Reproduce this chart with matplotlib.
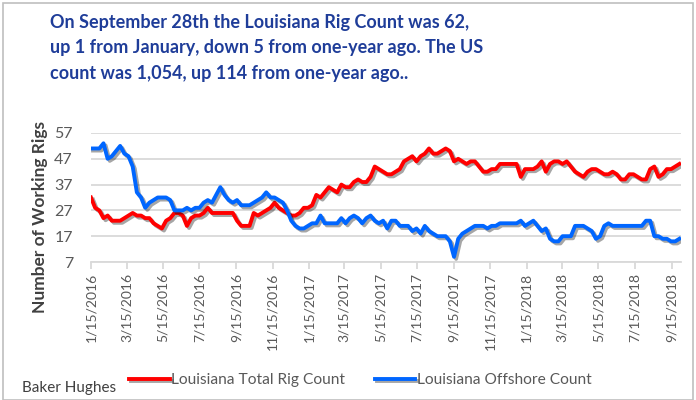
import numpy as np
import pandas as pd
import matplotlib
matplotlib.use('Agg')
import matplotlib.pyplot as plt
import matplotlib.patheffects as pe
from matplotlib.patches import Rectangle

# weekly Baker Hughes counts, Fridays 1/15/2016 .. 9/28/2018
weeks = pd.date_range('2016-01-15', '2018-09-28', freq='W-FRI')

la_total = [32, 28, 27, 24, 25, 23, 23, 23, 24, 25,
            26, 25, 25, 24, 24, 22, 21, 20, 23, 24,
            26, 26, 25, 21, 24, 25, 25, 26, 28, 26,
            26, 26, 26, 26, 26, 23, 21, 21, 21, 26,
            25, 26, 27, 28, 30, 28, 27, 26, 25, 25,
            26, 28, 28, 29, 33, 32, 34, 36, 35, 34,
            37, 36, 36, 38, 39, 38, 38, 40, 44, 43,
            42, 41, 41, 42, 43, 46, 47, 48, 46, 48,
            49, 51, 49, 49, 50, 51, 50, 46, 47, 46,
            45, 46, 46, 44, 42, 42, 43, 43, 45, 45,
            45, 45, 45, 40, 43, 43, 43, 44, 46, 42,
            45, 46, 46, 45, 46, 44, 42, 41, 40, 42,
            43, 43, 42, 41, 41, 42, 41, 39, 39, 41,
            41, 40, 39, 39, 43, 44, 40, 41, 43, 43,
            44, 45]

la_offshore = [51, 51, 51, 53, 47, 48, 50, 52, 49, 48,
               44, 34, 32, 28, 30, 31, 32, 32, 32, 31,
               27, 27, 27, 28, 27, 28, 28, 30, 31, 30,
               33, 36, 33, 31, 30, 31, 29, 29, 29, 30,
               31, 32, 34, 32, 32, 31, 30, 27, 23, 21,
               20, 20, 21, 22, 22, 25, 22, 22, 22, 22,
               24, 22, 24, 25, 24, 22, 24, 25, 23, 22,
               23, 20, 23, 23, 21, 21, 21, 19, 20, 18,
               21, 19, 18, 17, 17, 17, 15, 9, 16, 18,
               19, 20, 21, 21, 21, 20, 21, 21, 22, 22,
               22, 22, 22, 23, 21, 22, 23, 21, 19, 20,
               16, 15, 15, 17, 17, 17, 21, 21, 21, 20,
               19, 16, 17, 21, 22, 21, 21, 21, 21, 21,
               21, 21, 21, 23, 23, 17, 17, 16, 16, 15,
               15, 16]

y_ticks = [7, 17, 27, 37, 47, 57]
x_labels = ['1/15/2016', '3/15/2016', '5/15/2016', '7/15/2016', '9/15/2016',
            '11/15/2016', '1/15/2017', '3/15/2017', '5/15/2017', '7/15/2017',
            '9/15/2017', '11/15/2017', '1/15/2018', '3/15/2018', '5/15/2018',
            '7/15/2018', '9/15/2018']

title = ("On September 28th the Louisiana Rig Count was 62,\n"
         "up 1 from January, down 5 from one-year ago. The US\n"
         "count was 1,054, up 114 from one-year ago..")

plt.rcParams['font.family'] = ['Lato', 'DejaVu Sans']
gray = '#595959'

fig = plt.figure(figsize=(6.96, 4.0), dpi=100)
fig.patches.append(Rectangle((0.004, 0.0), 0.992, 0.992, transform=fig.transFigure,
                             fill=False, edgecolor='#BFBFBF', lw=1.2))

ax = fig.add_axes([0.1307, 0.345, 0.848, 0.3225])
shadow = [pe.SimpleLineShadow(offset=(1.5, -1.5), shadow_color='k', alpha=0.35), pe.Normal()]
ax.plot(weeks, la_total, color='#FF0000', lw=2.8, label='Louisiana Total Rig Count',
        path_effects=shadow, solid_joinstyle='round')
ax.plot(weeks, la_offshore, color='#0066FF', lw=2.8, label='Louisiana Offshore Count',
        path_effects=shadow, solid_joinstyle='round')

ax.set_ylim(7, 57)
ax.set_yticks(y_ticks)
ax.set_xlim(weeks[0], pd.Timestamp('2018-10-01'))
ax.set_xticks(pd.to_datetime(x_labels, format='%m/%d/%Y'))
ax.set_xticklabels(x_labels, rotation=90)
ax.grid(axis='y', color='#D9D9D9', lw=1.3)
ax.set_axisbelow(True)
for s in ['top', 'right', 'left']:
    ax.spines[s].set_visible(False)
ax.spines['bottom'].set_color('#D9D9D9')
ax.spines['bottom'].set_linewidth(1.3)
ax.tick_params(axis='y', length=0, pad=13, labelsize=11.5, labelcolor=gray)
ax.tick_params(axis='x', length=5, color='#D9D9D9', width=1.3, pad=3,
               labelsize=10, labelcolor=gray)
ax.set_ylabel('Number of Working Rigs', fontsize=12.5, fontweight='bold', color='#404040')
ax.yaxis.set_label_coords(-0.072, 0.35)

fig.text(0.072, 0.966, title, ha='left', va='top', fontsize=13, fontweight='bold',
         color='#1F3D99', linespacing=1.62)

fig.legend(loc='center', bbox_to_anchor=(0.518, 0.05), ncol=2, frameon=False,
           fontsize=11.2, labelcolor=gray, handlelength=2.6, handletextpad=0.1,
           columnspacing=1.9)
fig.text(0.032, 0.03, 'Baker Hughes', fontsize=11, color='#404040', ha='left', va='center')

plt.savefig('out.png', dpi=100)
plt.close()
